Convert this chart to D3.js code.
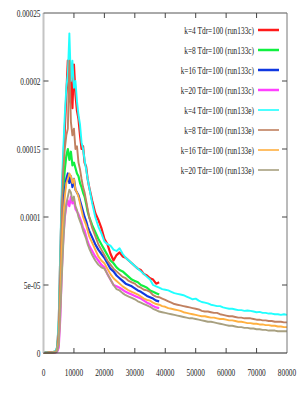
<!DOCTYPE html>
<html><head><meta charset="utf-8">
<script src="https://cdn.jsdelivr.net/npm/d3@7"></script>
<style>html,body{margin:0;padding:0;background:#fff;}svg{display:block;}</style>
</head><body>
<script>
// Values in units of 1e-6
const xC = [0,1000,2000,3000,4000,4500,5000,5500,6000,6500,7000,7500,8000,8500,9000,9500,10000,10500,11000,11500,12000,12500,13000,13500,14000,14500,15000,16000,17000,18000,19000,20000,21000,22000,23000,24000,25000,26000,27000,28000,29000,30000,31000,32000,33000,34000,35000,36000,37000,38000];
const xE = xC.concat([39000,40000,41000,42000,43000,44000,45000,46000,47000,48000,49000,50000,51000,52000,53000,54000,55000,56000,57000,58000,59000,60000,61000,62000,63000,64000,65000,66000,67000,68000,69000,70000,71000,72000,73000,74000,75000,76000,77000,78000,79000,80000]);

const k4c  = [0,0.5,0.3,0.6,1,4,20,70,110,140,165,190,215,185,200,180,212,190,178,172,160,150,152,140,137,128,122,112,103,98,92,84,80,73,68,72,74,71,70,68,66,64,62,61,58,57,55,54,51,52];
const k8c  = [0.2,0.4,0.3,0.5,1,3,15,55,95,120,135,145,150,142,148,138,140,136,132,130,125,122,118,115,110,104,100,94,89,84,80,76,72,68,66,63,61,60,58,56,54,53,52,50,49,48,46,45,44,43];
const k16c = [0.1,0.3,0.2,0.4,0.8,2,10,45,85,110,120,128,132,125,130,122,128,120,118,116,112,108,104,100,97,93,90,85,80,76,73,70,66,62,60,57,55,53,51,50,49,47.5,46,45,43.5,42,41,40,38.5,38];
const k20c = [0,0.2,0.1,0.2,0.4,1,4,25,60,85,100,108,112,108,115,110,112,106,104,102,99,96,92,90,86,82,79,75,71,68,65,63,58,54,50,49,48,46.5,45,44,43,42,41,40,38.5,37,36,34.5,33.5,33];

const k4e  = [0.3,0.5,0.2,0.5,1.5,5,25,75,120,150,175,195,205,235,200,215,195,200,185,175,168,155,150,142,135,128,122,110,100,93,88,82,80,79,76,75,77,73,70,68,66,64,62,60,58,56,54,50,49,48,47,46.5,46,45,44,43.5,43,42.5,41.5,40.5,39.5,40,38.5,37.5,37,36.5,35.5,35,34.5,34.5,33.5,33,32.5,32.5,32,31.5,31.5,31,31.2,31,30.5,30,30.2,29.5,29.5,29,29,28.5,28.5,28,28.5,28];
const k8e  = [0.2,0.3,0.5,0.4,1,3,18,60,105,135,150,160,165,215,170,160,165,150,152,140,135,128,122,118,112,106,100,92,86,80,76,72,68,65,62,60,58,56,55,53,52,51,49,48,46.5,46,45,42.5,41.5,41,40,39,38,37,36,35.5,35,34.5,34,33.5,33,32.5,32,31,30.5,30.5,30,29.5,29.5,28.5,28,27.5,27,27,26.5,26,26,25.5,25.5,25.5,25,24.5,24.5,24,24,23.5,23.5,23,23,23,22.5,22.5];
const k16e = [0.2,0.3,0.2,0.3,0.6,2,8,35,75,100,115,125,128,132,130,125,128,120,118,115,110,105,100,97,94,90,86,81,76,71,68,66,62,58,55,53,51,49,47.5,46,45,44,43,41.5,40,39,38.5,37,36,35.5,34.5,34,33,32.5,32,31.5,31,30,29.5,29,28.5,28,27.5,27,27,26.5,26,26,25.5,25,25,24.5,24,24,23.5,23,23,22.5,22,22,21.5,21.5,21,21,20.5,20.5,20,20,19.5,19.5,19,19];
const k20e = [0.1,0.2,0.1,0.3,0.5,1.5,6,28,55,80,100,110,115,120,118,112,115,108,105,100,97,94,90,87,84,80,77,72,68,65,63,62,58,54,50,47,46,44,42.5,41.5,40.5,39.5,38,37,36,35,34,32.5,31.5,30.5,30,29.5,29,28.5,28,27.5,27,26.5,26,25.5,25.5,25,24.5,24,23.5,23,23,22.5,22,21.5,21,20.5,20,20,19.5,19,19,18.5,18.5,18,18,17.5,17.5,17,17,16.5,16.5,16.5,16,16,16,16];

const seriesNames = ["k=4 Tdr=100 (run133c)","k=8 Tdr=100 (run133c)","k=16 Tdr=100 (run133c)","k=20 Tdr=100 (run133c)","k=4 Tdr=100 (run133e)","k=8 Tdr=100 (run133e)","k=16 Tdr=100 (run133e)","k=20 Tdr=100 (run133e)"];
const seriesColors = ["#ff1a1a","#10f040","#1038e0","#ff40ff","#20ffff","#c08060","#ffb040","#a8a080"];
const seriesValues = [k4c,k8c,k16c,k20c,k4e,k8e,k16e,k20e];
const seriesX = [xC,xC,xC,xC,xE,xE,xE,xE];

const yTicks = [0,50,100,150,200,250];
const yTickLabels = ["0","5e-05","0.0001","0.00015","0.0002","0.00025"];
const xTicks = [0,10000,20000,30000,40000,50000,60000,70000,80000];
const xTickLabels = ["0","10000","20000","30000","40000","50000","60000","70000","80000"];

const W = 299, H = 393;
const L = 43.5, R = 287, T = 13, B = 353;
const sx = 0.7;
const svg = d3.select("body").append("svg").attr("width", W).attr("height", H);
svg.append("rect").attr("width", W).attr("height", H).attr("fill", "#fff");

const x = d3.scaleLinear().domain([0, 80000]).range([L, R]);
const y = d3.scaleLinear().domain([0, 250]).range([B, T]);

function txt(g, px, py, s, anchor) {
  g.append("g").attr("transform", `translate(${px},${py})`)
    .append("text").attr("transform", `scale(${sx},1)`)
    .attr("text-anchor", anchor).attr("dy", "0.35em")
    .attr("font-family", "'Liberation Serif','Times New Roman',serif")
    .attr("font-size", "10.5px").attr("fill", "#222").text(s);
}

// series
const line = d3.line().x(d => x(d[0])).y(d => y(d[1]));
seriesValues.forEach((vals, i) => {
  const pts = vals.map((v, j) => [seriesX[i][j], v]);
  svg.append("path").attr("d", line(pts)).attr("fill", "none")
    .attr("stroke", seriesColors[i]).attr("stroke-width", i < 4 ? 2.2 : 1.9)
    .attr("stroke-linejoin", "round");
});

// frame
svg.append("line").attr("x1", L).attr("x2", L).attr("y1", T).attr("y2", B).attr("stroke", "#c4c4c4").attr("stroke-width", 2);
svg.append("line").attr("x1", L).attr("x2", R).attr("y1", T).attr("y2", T).attr("stroke", "#555").attr("stroke-width", 1);
svg.append("line").attr("x1", R).attr("x2", R).attr("y1", T).attr("y2", B).attr("stroke", "#777").attr("stroke-width", 1);
svg.append("line").attr("x1", L).attr("x2", R).attr("y1", B).attr("y2", B).attr("stroke", "#222").attr("stroke-width", 1);

// ticks
const tl = 5;
xTicks.forEach((t, i) => {
  if (i > 0 && i < xTicks.length - 1) {
    svg.append("line").attr("x1", x(t)).attr("x2", x(t)).attr("y1", B).attr("y2", B - tl).attr("stroke", "#444");
    svg.append("line").attr("x1", x(t)).attr("x2", x(t)).attr("y1", T).attr("y2", T + tl).attr("stroke", "#444");
  }
  txt(svg, x(t), 372, xTickLabels[i], "middle");
});
yTicks.forEach((t, i) => {
  if (i > 0 && i < yTicks.length - 1) {
    svg.append("line").attr("x1", L).attr("x2", L + tl).attr("y1", y(t)).attr("y2", y(t)).attr("stroke", "#444");
    svg.append("line").attr("x1", R).attr("x2", R - tl).attr("y1", y(t)).attr("y2", y(t)).attr("stroke", "#444");
  }
  txt(svg, 40.5, y(t), yTickLabels[i], "end");
});

// legend
seriesNames.forEach((n, i) => {
  const ly = 30 + i * 20;
  txt(svg, 254, ly, n, "end");
  svg.append("line").attr("x1", 258).attr("x2", 279).attr("y1", ly).attr("y2", ly)
    .attr("stroke", seriesColors[i]).attr("stroke-width", i < 4 ? 2.5 : 1.6);
});
</script>
</body></html>
